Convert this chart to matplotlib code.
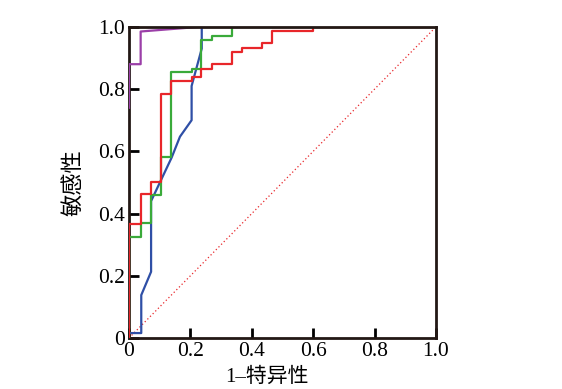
import matplotlib
matplotlib.use("Agg")
import matplotlib.pyplot as plt

purple_x = [0, 0, 0.038, 0.038, 0.23, 1.0]
purple_y = [0.74, 0.88, 0.88, 0.985, 1.0, 1.0]

blue_x = [0, 0.04, 0.04, 0.072, 0.072, 0.139, 0.166, 0.204, 0.204, 0.237, 0.237, 1.0]
blue_y = [0.016, 0.016, 0.138, 0.213, 0.44, 0.58, 0.647, 0.70, 0.81, 0.93, 1.0, 1.0]

green_x = [0, 0, 0.038, 0.038, 0.072, 0.072, 0.104, 0.104, 0.136, 0.136, 0.204, 0.204,
           0.236, 0.236, 0.269, 0.269, 0.334, 0.334, 1.0]
green_y = [0, 0.326, 0.326, 0.37, 0.37, 0.46, 0.46, 0.583, 0.583, 0.855, 0.855, 0.865,
           0.865, 0.958, 0.958, 0.969, 0.969, 1.0, 1.0]

red_x = [0, 0, 0.038, 0.038, 0.072, 0.072, 0.104, 0.104, 0.137, 0.137, 0.204, 0.204,
         0.236, 0.236, 0.269, 0.269, 0.334, 0.334, 0.367, 0.367, 0.434, 0.434, 0.467,
         0.467, 0.598, 0.598, 1.0]
red_y = [0, 0.367, 0.367, 0.462, 0.462, 0.50, 0.50, 0.785, 0.785, 0.826, 0.826, 0.84,
         0.84, 0.864, 0.864, 0.88, 0.88, 0.92, 0.92, 0.933, 0.933, 0.948, 0.948, 0.988,
         0.988, 1.0, 1.0]

ref_x = [0, 1]
ref_y = [0, 1]

ticks = [0, 0.2, 0.4, 0.6, 0.8, 1.0]
tick_labels = ["0", "0.2", "0.4", "0.6", "0.8", "1.0"]

plt.rcParams['font.family'] = ['Liberation Serif', 'Noto Sans CJK SC']

fig = plt.figure(figsize=(5.62, 3.89), dpi=100)
ax = fig.add_axes([0.2295, 0.131, 0.5463, 0.800])

ax.plot(ref_x, ref_y, color="#e8262a", lw=0.9, ls=(0, (1, 2)))
ax.plot(blue_x, blue_y, color="#2f4fa6", lw=1.6, zorder=3)
ax.plot(green_x, green_y, color="#3aaa3a", lw=1.6, zorder=3)
ax.plot(red_x, red_y, color="#e8262a", lw=1.6, zorder=3)
ax.plot(purple_x, purple_y, color="#9b3fa8", lw=1.6, zorder=3)

ax.set_xlim(0, 1)
ax.set_ylim(0, 1)
ax.set_xticks(ticks)
ax.set_xticklabels(tick_labels)
ax.set_yticks(ticks)
ax.set_yticklabels(tick_labels)
ax.tick_params(direction="in", length=7, width=2, labelsize=15.5, pad=3,
               top=False, right=False)
for name, s in ax.spines.items():
    s.set_linewidth(2)
    s.set_color("#231815")
    s.set_zorder(2.5 if name in ("left", "bottom") else 4)

ax.set_xlabel("1–特异性", fontsize=15, labelpad=4)
ax.xaxis.set_label_coords(0.45, -0.095, transform=ax.transAxes)
ax.xaxis.label.set_verticalalignment("top")
ax.set_ylabel("敏感性", fontsize=16, labelpad=10,
              family=['Noto Sans CJK SC'], fontweight="light")

fig.savefig("out.png", dpi=100)
